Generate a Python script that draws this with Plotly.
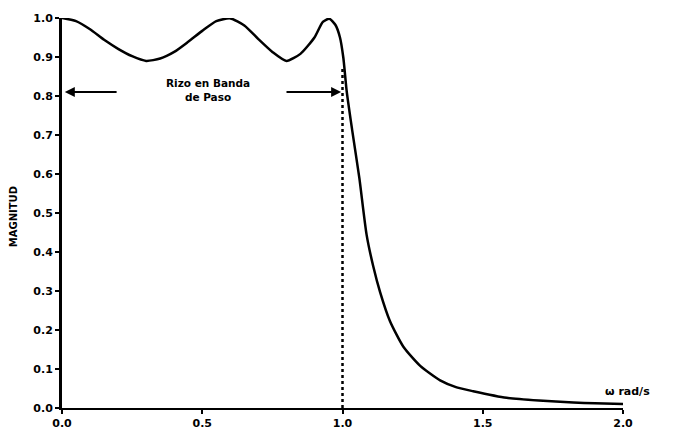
import plotly.graph_objects as go

# Magnitude response
omega = [0.0, 0.05, 0.1, 0.15, 0.2, 0.25, 0.3, 0.35, 0.4, 0.45, 0.5, 0.55, 0.6, 0.65,
         0.7, 0.75, 0.8, 0.85, 0.9, 0.93, 0.953, 0.975, 0.991, 1.003, 1.015, 1.035,
         1.06, 1.086, 1.11, 1.134, 1.169, 1.217, 1.277, 1.348, 1.407, 1.466, 1.585,
         1.7, 1.823, 1.9, 2.0]
magnitud = [1.0, 0.992, 0.971, 0.944, 0.921, 0.902, 0.890, 0.896, 0.913, 0.939, 0.967,
            0.992, 0.999, 0.981, 0.946, 0.913, 0.890, 0.908, 0.950, 0.99, 0.998, 0.982,
            0.950, 0.898, 0.812, 0.71, 0.59, 0.444, 0.362, 0.297, 0.223, 0.157, 0.108,
            0.071, 0.053, 0.043, 0.026, 0.019, 0.014, 0.012, 0.010]

cutoff_x = [1.0, 1.0]
cutoff_y = [0.0, 0.875]

y_ticks = [0.0, 0.1, 0.2, 0.3, 0.4, 0.5, 0.6, 0.7, 0.8, 0.9, 1.0]
y_labels = ["0.0", "0.1", "0.2", "0.3", "0.4", "0.5", "0.6", "0.7", "0.8", "0.9", "1.0"]
x_ticks = [0.0, 0.5, 1.0, 1.5, 2.0]
x_labels = ["0.0", "0.5", "1.0", "1.5", "2.0"]

ripple_text = "Rizo en Banda<br>de Paso"
arrow_y = 0.81

FONT = dict(family="DejaVu Sans", size=11, color="black", weight="bold")

fig = go.Figure()
fig.add_trace(go.Scatter(x=cutoff_x, y=cutoff_y, mode="lines",
                         line=dict(color="black", width=2.5, dash="dot"),
                         showlegend=False, hoverinfo="skip"))
fig.add_trace(go.Scatter(x=omega, y=magnitud, mode="lines",
                         line=dict(color="black", width=2.5, shape="spline", smoothing=0.6),
                         showlegend=False, cliponaxis=False))

fig.update_layout(
    width=675, height=442,
    margin=dict(l=62, r=52, t=14, b=21),
    paper_bgcolor="white", plot_bgcolor="white",
    font=FONT,
    xaxis=dict(range=[0, 2.0], tickvals=x_ticks, ticktext=x_labels,
               showgrid=False, zeroline=False, showline=True, linecolor="black",
               linewidth=2, ticks="outside", ticklen=4, tickwidth=2, tickcolor="black",
               tickfont=FONT),
    yaxis=dict(range=[0, 1.0], tickvals=y_ticks, ticktext=y_labels,
               showgrid=False, zeroline=False, showline=True, linecolor="black",
               linewidth=3, ticks="outside", ticklen=4, tickwidth=2, tickcolor="black",
               tickfont=FONT),
)

# axis titles
fig.add_annotation(text="MAGNITUD", xref="paper", yref="paper", x=-0.085, y=0.49,
                   textangle=-90, showarrow=False, font=dict(FONT, size=10),
                   xanchor="center", yanchor="middle")
fig.add_annotation(text="ω rad/s", xref="x", yref="y", x=1.93, y=0.042,
                   showarrow=False, font=dict(FONT, size=11), xanchor="left",
                   yanchor="middle")

# ripple label and arrows
fig.add_annotation(text=ripple_text, x=0.52, y=arrow_y + 0.005, showarrow=False,
                   font=dict(FONT, size=10.5), align="center")
fig.add_annotation(x=0.01, y=arrow_y, ax=0.2, ay=arrow_y, xref="x", yref="y",
                   axref="x", ayref="y", text="", showarrow=True, arrowhead=2,
                   arrowsize=1, arrowwidth=2, arrowcolor="black")
fig.add_annotation(x=0.995, y=arrow_y, ax=0.795, ay=arrow_y, xref="x", yref="y",
                   axref="x", ayref="y", text="", showarrow=True, arrowhead=2,
                   arrowsize=1, arrowwidth=2, arrowcolor="black")

fig.write_html("out.html")
